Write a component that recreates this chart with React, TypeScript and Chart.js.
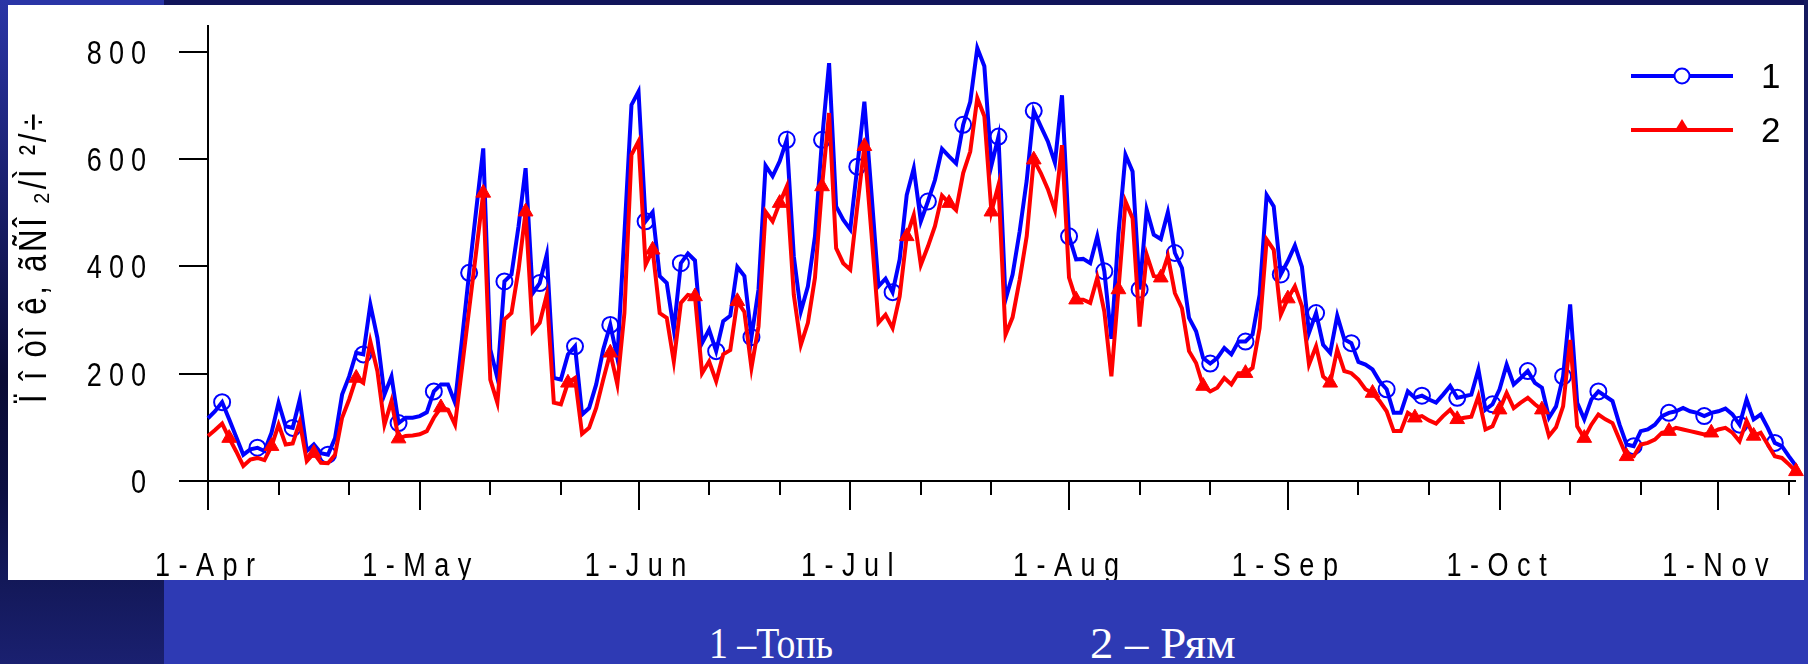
import React, { useEffect, useRef } from "react";
import { Chart, registerables } from "chart.js";

Chart.register(...registerables);

// ---------- data ----------
const MONTH_LABELS = ["1-Apr", "1-May", "1-Jun", "1-Jul", "1-Aug", "1-Sep", "1-Oct", "1-Nov"];
const MONTH_START_DAYS = [0, 30, 61, 91, 122, 153, 183, 214]; // days since 1 Apr
const X_TICK_DAYS = [0, 10, 20, 30, 40, 50, 61, 71, 81, 91, 101, 111, 122, 132, 142, 153, 163, 173, 183, 193, 203, 214, 224];
const Y_TICKS = [0, 200, 400, 600, 800];
const X_MAX = 225;
const Y_MAX = 850;
const SERIES_NAMES = ["1", "2"];
const Y_TITLE = "Ï î òî ê, ãÑÎ ₂/Ì ²/÷";
const FOOT_LABELS = ["1 –Топь", "2 – Рям"];

// series 1 (Топь), daily from 1 Apr
const TOP_VALUES = [
  117, 130, 147, 115, 82, 49, 59, 62, 56, 90,
  146, 102, 99, 152, 56, 68, 52, 49, 80, 161,
  195, 239, 236, 329, 267, 161, 195, 108, 118, 118,
  121, 128, 167, 180, 180, 146, 265, 388, 505, 620,
  245, 192, 372, 385, 475, 583, 350, 369, 422, 192,
  189, 236, 251, 124, 136, 180, 245, 291, 229, 460,
  701, 726, 484, 501, 382, 369, 282, 406, 424, 411,
  257, 282, 242, 298, 308, 399, 382, 268, 357, 588,
  568, 596, 636, 419, 316, 363, 456, 636, 779, 512,
  487, 469, 586, 707, 537, 363, 377, 352, 413, 533,
  583, 484, 521, 561, 619, 605, 592, 664, 707, 807,
  773, 588, 642, 338, 385, 465, 560, 690, 661, 633,
  593, 719, 456, 413, 414, 406, 456, 391, 265, 460,
  608, 577, 357, 506, 459, 451, 501, 425, 397, 304,
  279, 229, 219, 229, 248, 236, 260, 260, 273, 347,
  533, 512, 385, 410, 439, 399, 276, 313, 254, 239,
  308, 264, 257, 222, 217, 208, 186, 171, 127, 127,
  167, 155, 159, 152, 146, 161, 177, 155, 158, 161,
  208, 133, 143, 171, 217, 180, 192, 205, 183, 174,
  118, 139, 195, 329, 146, 115, 152, 167, 158, 149,
  105, 68, 65, 93, 96, 105, 121, 127, 130, 136,
  130, 127, 121, 127, 130, 135, 124, 105, 152, 115,
  124, 99, 71, 65, 46, 28,
];

// series 2 (Рям), daily from 1 Apr
const RYAM_VALUES = [
  84, 95, 107, 80, 55, 28, 40, 43, 39, 65,
  105, 68, 70, 110, 37, 52, 34, 33, 49, 118,
  152, 192, 183, 260, 205, 105, 149, 79, 84, 85,
  87, 93, 118, 137, 133, 105, 212, 320, 428, 537,
  189, 146, 301, 313, 394, 502, 279, 295, 347, 146,
  143, 183, 192, 88, 99, 136, 189, 239, 180, 313,
  608, 633, 403, 431, 313, 304, 223, 332, 347, 344,
  201, 223, 186, 236, 244, 335, 315, 211, 288, 502,
  484, 518, 549, 347, 254, 295, 379, 549, 686, 434,
  406, 394, 512, 624, 462, 295, 310, 285, 344, 456,
  496, 403, 437, 475, 532, 518, 505, 574, 614, 714,
  680, 502, 552, 273, 305, 375, 456, 599, 574, 544,
  505, 626, 379, 338, 338, 332, 379, 316, 195, 357,
  521, 490, 288, 422, 382, 379, 419, 350, 322, 242,
  220, 177, 167, 174, 192, 180, 201, 201, 211, 285,
  450, 431, 310, 340, 363, 326, 217, 251, 195, 183,
  245, 205, 201, 189, 171, 164, 149, 130, 93, 93,
  127, 118, 121, 113, 107, 121, 133, 115, 118, 120,
  158, 96, 102, 133, 164, 136, 146, 155, 143, 133,
  84, 100, 139, 263, 102, 80, 105, 124, 115, 108,
  77, 46, 46, 68, 71, 77, 90, 93, 99, 96,
  93, 90, 87, 90, 96, 99, 90, 74, 112, 84,
  90, 68, 46, 43, 31, 18,
];

// ---------- styles ----------
const BLUE = "#0000ff";
const RED = "#ff0000";
const SANS = '"Liberation Sans", Arial, sans-serif';
const NARROW_SCALE = 0.82;

// draws text with extra spacing between glyphs and an optional horizontal squeeze
function drawSpaced(
  ctx: CanvasRenderingContext2D,
  text: string,
  x: number,
  y: number,
  spacing: number,
  align: "left" | "center" | "right",
  hScale = 1
) {
  const chars = Array.from(text);
  const widths = chars.map((ch) => ctx.measureText(ch).width * hScale);
  const total = widths.reduce((a, b) => a + b, 0) + spacing * (chars.length - 1);
  let cx = align === "left" ? x : align === "center" ? x - total / 2 : x - total;
  ctx.textAlign = "left";
  chars.forEach((ch, i) => {
    ctx.save();
    ctx.translate(cx, y);
    ctx.scale(hScale, 1);
    ctx.fillText(ch, 0, 0);
    ctx.restore();
    cx += widths[i] + spacing;
  });
}

const axesPlugin = {
  id: "customAxes",
  beforeDatasetsDraw(chart: any) {
    const { ctx } = chart;
    const xs = chart.scales.x;
    const ys = chart.scales.y;
    const x0 = xs.getPixelForValue(0);
    const y0 = ys.getPixelForValue(0);
    ctx.save();
    ctx.strokeStyle = "#000";
    ctx.lineWidth = 2;
    ctx.beginPath();
    ctx.moveTo(x0, ys.getPixelForValue(Y_MAX));
    ctx.lineTo(x0, y0);
    ctx.moveTo(x0 - 29, y0);
    ctx.lineTo(xs.getPixelForValue(X_MAX), y0);
    Y_TICKS.forEach((v) => {
      const py = Math.round(ys.getPixelForValue(v));
      ctx.moveTo(x0 - 29, py);
      ctx.lineTo(x0, py);
    });
    X_TICK_DAYS.forEach((d) => {
      const px = Math.round(xs.getPixelForValue(d));
      const major = MONTH_START_DAYS.includes(d);
      ctx.moveTo(px, y0);
      ctx.lineTo(px, y0 + (major ? 29 : 14));
    });
    ctx.stroke();

    ctx.fillStyle = "#000";
    ctx.textBaseline = "alphabetic";
    ctx.font = `33px ${SANS}`;
    Y_TICKS.forEach((v) => {
      const py = ys.getPixelForValue(v);
      drawSpaced(ctx, String(v), 146, py + 12, 7, "right", NARROW_SCALE);
    });
    MONTH_LABELS.forEach((lab, i) => {
      const px = xs.getPixelForValue(MONTH_START_DAYS[i]);
      drawSpaced(ctx, lab, px - 3, 576, 8.5, "center", NARROW_SCALE);
    });

    // y title
    ctx.save();
    ctx.translate(46, 403);
    ctx.rotate(-Math.PI / 2);
    ctx.font = `38px ${SANS}`;
    drawSpaced(ctx, Y_TITLE, 0, 0, 2.7, "left", NARROW_SCALE);
    ctx.restore();
    ctx.restore();
  },
  afterDraw(chart: any) {
    const { ctx } = chart;
    ctx.save();
    const lx1 = 1631;
    const lx2 = 1733;
    const lm = 1682;
    ctx.lineWidth = 4;
    ctx.strokeStyle = BLUE;
    ctx.beginPath();
    ctx.moveTo(lx1, 76);
    ctx.lineTo(lx2, 76);
    ctx.stroke();
    ctx.beginPath();
    ctx.arc(lm, 76, 7.5, 0, Math.PI * 2);
    ctx.fillStyle = "#fff";
    ctx.fill();
    ctx.lineWidth = 2;
    ctx.stroke();
    ctx.lineWidth = 4;
    ctx.strokeStyle = RED;
    ctx.beginPath();
    ctx.moveTo(lx1, 130);
    ctx.lineTo(lx2, 130);
    ctx.stroke();
    ctx.fillStyle = RED;
    ctx.beginPath();
    ctx.moveTo(lm, 119);
    ctx.lineTo(lm + 8, 132);
    ctx.lineTo(lm - 8, 132);
    ctx.closePath();
    ctx.fill();
    ctx.fillStyle = "#000";
    ctx.font = `35px ${SANS}`;
    ctx.textAlign = "left";
    ctx.textBaseline = "alphabetic";
    ctx.fillText(SERIES_NAMES[0], 1761, 88);
    ctx.fillText(SERIES_NAMES[1], 1761, 142);
    ctx.restore();
  },
};

export default function App() {
  const ref = useRef<HTMLCanvasElement>(null);
  useEffect(() => {
    const canvas = ref.current;
    if (!canvas) return;
    const chart = new Chart(canvas, {
      type: "line",
      data: {
        datasets: [
          {
            label: SERIES_NAMES[0],
            data: TOP_VALUES.map((v, i) => ({ x: i, y: v })),
            borderColor: BLUE,
            backgroundColor: BLUE,
            borderWidth: 4,
            tension: 0,
            fill: false,
            clip: false,
            order: 1,
            pointStyle: "circle",
            pointRadius: (c: any) => (c.dataIndex % 5 === 2 ? 8 : 0),
            pointBorderWidth: 2,
            pointBorderColor: BLUE,
            pointBackgroundColor: "rgba(0,0,0,0)",
          } as any,
          {
            label: SERIES_NAMES[1],
            data: RYAM_VALUES.map((v, i) => ({ x: i, y: v })),
            borderColor: RED,
            backgroundColor: RED,
            borderWidth: 4,
            tension: 0,
            fill: false,
            clip: false,
            order: 0,
            pointStyle: "triangle",
            pointRadius: (c: any) => (c.dataIndex % 6 === 3 ? 8.5 : 0),
            pointBorderWidth: 1,
            pointBorderColor: RED,
            pointBackgroundColor: RED,
          } as any,
        ],
      },
      options: {
        responsive: false,
        animation: false,
        devicePixelRatio: 1,
        events: [],
        layout: { padding: { left: 208, right: 12, top: 25, bottom: 99 } },
        plugins: { legend: { display: false }, tooltip: { enabled: false } },
        scales: {
          x: { type: "linear", min: 0, max: X_MAX, display: false },
          y: { type: "linear", min: 0, max: Y_MAX, display: false },
        },
      },
      plugins: [axesPlugin],
    });
    return () => chart.destroy();
  }, []);

  const abs = (s: React.CSSProperties): React.CSSProperties => ({ position: "absolute", ...s });
  const footFont = '45px "Liberation Serif", "Times New Roman", serif';

  return (
    <div style={{ position: "fixed", left: 0, top: 0, width: 1808, height: 664, background: "#11145a", overflow: "hidden" }}>
      <div style={abs({ left: 0, top: 0, width: 164, height: 5, background: "#2a35a6" })} />
      <div style={abs({ left: 0, top: 0, width: 8, height: 580, background: "linear-gradient(#2a35a6 0%, #0a0b35 65%, #0c0f42 85%, #141a5c 100%)" })} />
      <div style={abs({ left: 1804, top: 0, width: 4, height: 580, background: "linear-gradient(#161a5e 0%, #1c2270 70%, #2b37ae 100%)" })} />
      <div style={abs({ left: 8, top: 5, width: 1796, height: 575, background: "#ffffff" })} />
      <canvas ref={ref} width={1808} height={580} style={abs({ left: 0, top: 0, width: 1808, height: 580 })} />
      <div style={abs({ left: 0, top: 580, width: 164, height: 84, background: "linear-gradient(#131858, #1a2070)" })} />
      <div style={abs({ left: 164, top: 580, width: 1644, height: 84, background: "#2e3ab4" })} />
      <div style={abs({ left: 709, top: 621, font: footFont, lineHeight: "45px", color: "#ffffff", whiteSpace: "pre", transform: "scaleX(0.84)", transformOrigin: "left top" })}>
        {FOOT_LABELS[0]}
      </div>
      <div style={abs({ left: 1090, top: 621, font: footFont, lineHeight: "45px", color: "#ffffff", whiteSpace: "pre", transform: "scaleX(1.04)", transformOrigin: "left top" })}>
        {FOOT_LABELS[1]}
      </div>
    </div>
  );
}
